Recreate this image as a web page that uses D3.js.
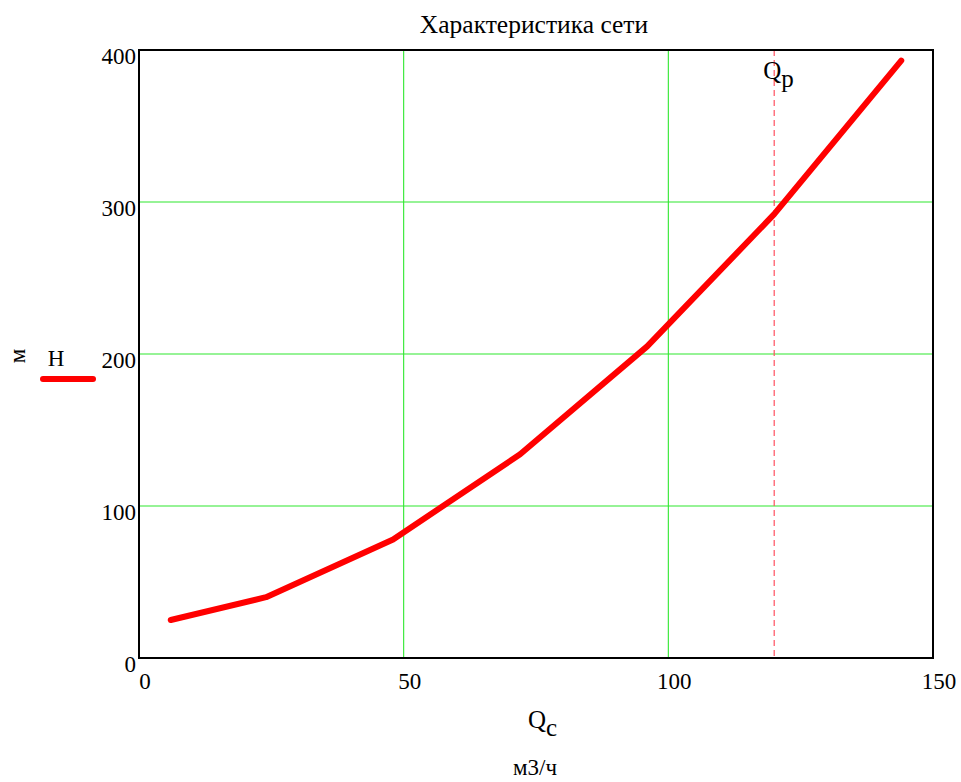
<!DOCTYPE html>
<html><head><meta charset="utf-8">
<script src="https://cdn.jsdelivr.net/npm/d3@7"></script>
<style>body{margin:0;background:#fff}svg{display:block}text{font-family:"Liberation Serif","Times New Roman",serif;fill:#000}</style>
</head><body><svg id="c" width="961" height="782"></svg>
<script>
const Q = [6, 24, 48, 72, 96, 120, 144];
const H = [25, 40, 78, 134, 205, 292, 393];
const Qp = 120;
const xTicks = [0, 50, 100, 150];
const yTicks = [0, 100, 200, 300, 400];
const title = "Характеристика сети";

const svg = d3.select("#c");
const L = 139, R = 933, T = 50, B = 658;
const x = d3.scaleLinear().domain([0, 150]).range([L, R]);
const y = d3.scaleLinear().domain([0, 400]).range([B, T]);

// grid
svg.append("g").selectAll("line").data(xTicks.slice(1, -1)).join("line")
  .attr("x1", d => x(d)).attr("x2", d => x(d)).attr("y1", T).attr("y2", B)
  .attr("stroke", "#2ee82e").attr("stroke-width", 1.1);
svg.append("g").selectAll("line").data(yTicks.slice(1, -1)).join("line")
  .attr("y1", d => y(d)).attr("y2", d => y(d)).attr("x1", L).attr("x2", R)
  .attr("stroke", "#2ee82e").attr("stroke-width", 1.1);

// Qp marker
svg.append("line").attr("x1", x(Qp)).attr("x2", x(Qp)).attr("y1", T).attr("y2", B)
  .attr("stroke", "#ff5060").attr("stroke-width", 1.2).attr("stroke-dasharray", "6,4");
const qp = svg.append("text").attr("x", x(Qp) - 11).attr("y", 79).attr("font-size", 25);
qp.append("tspan").text("Q");
qp.append("tspan").attr("dy", 8).text("p");

// series
const line = d3.line().x((d, i) => x(Q[i])).y(d => y(d));
svg.append("path").datum(H).attr("d", line).attr("fill", "none")
  .attr("stroke", "#ff0000").attr("stroke-width", 6)
  .attr("stroke-linecap", "round").attr("stroke-linejoin", "round");

// frame
svg.append("rect").attr("x", L).attr("y", T).attr("width", R - L).attr("height", B - T)
  .attr("fill", "none").attr("stroke", "#000").attr("stroke-width", 2);

// x tick labels
svg.append("g").selectAll("text").data(xTicks).join("text")
  .attr("x", d => x(d) + 6).attr("y", 689)
  .attr("text-anchor", "middle").attr("font-size", 23).text(d => d);
// y tick labels
svg.append("g").selectAll("text").data(yTicks).join("text")
  .attr("x", 136).attr("y", d => y(d) + 13.5)
  .attr("text-anchor", "end").attr("font-size", 23).text(d => d);

// title
svg.append("text").attr("x", 534).attr("y", 33).attr("text-anchor", "middle")
  .attr("font-size", 25.5).text(title);

// x axis label
const xl = svg.append("text").attr("x", 528).attr("y", 728).attr("font-size", 25);
xl.append("tspan").text("Q");
xl.append("tspan").attr("dy", 8).text("c");
svg.append("text").attr("x", 535).attr("y", 775).attr("text-anchor", "middle")
  .attr("font-size", 23).text("м3/ч");

// y legend
svg.append("text").attr("transform", "translate(25,356) rotate(-90)")
  .attr("text-anchor", "middle").attr("font-size", 23).text("м");
svg.append("text").attr("x", 56).attr("y", 366).attr("text-anchor", "middle")
  .attr("font-size", 23).text("H");
svg.append("line").attr("x1", 43).attr("x2", 93).attr("y1", 379).attr("y2", 379)
  .attr("stroke", "#ff0000").attr("stroke-width", 6).attr("stroke-linecap", "round");
</script></body></html>
